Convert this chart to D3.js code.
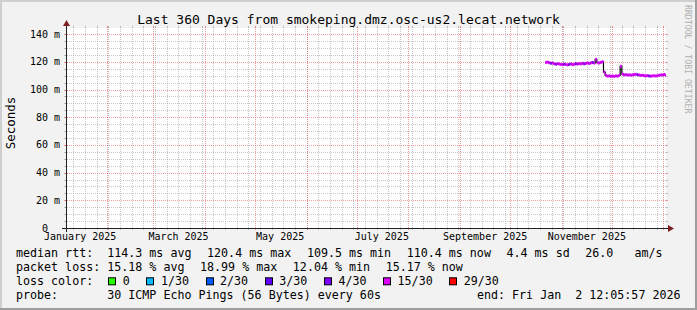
<!DOCTYPE html>
<html>
<head>
<meta charset="utf-8">
<script src="https://cdn.jsdelivr.net/npm/d3@7"></script>
<style>
html, body { margin: 0; padding: 0; background: #fff; }
svg { display: block; }
text { font-family: "DejaVu Sans Mono", monospace; white-space: pre; }
</style>
</head>
<body>
<div id="chart"></div>
<script>
// ---- data ----
const title = "Last 360 Days from smokeping.dmz.osc-us2.lecat.network";
const endStamp = "2026-01-02T12:05:57Z";
const spanDays = 360;
const firstDay = "2025-10-22T00:00:00Z";

// daily median rtt in ms, Oct 22 2025 .. Jan 2 2026
const medianMs = [
  119.6, 119.8, 119.4, 119.0, 119.2, 118.6, 118.3, 118.8, 118.4, 118.2,
  118.0, 118.4, 118.1, 117.8, 118.2, 118.5, 118.0, 118.3, 118.7, 118.4,
  118.9, 118.5, 119.0, 118.6, 118.9, 119.3, 118.8, 119.4, 119.6, 119.1,
  121.9, 119.4, 119.2, 119.7, 120.1, 112.6, 110.3, 109.7, 109.9, 109.6,
  109.8, 109.5, 109.9, 109.7, 110.3, 116.8, 111.2, 110.6, 110.8, 110.5,
  110.7, 110.4, 110.6, 110.9, 111.0, 110.7, 110.5, 110.2, 110.4, 110.0,
  109.9, 110.1, 109.8, 109.7, 109.9, 110.0, 109.8, 110.1, 110.3, 110.6,
  110.5, 110.9, 110.4
];
// lost pings (out of 30) for the same days
const lossPings = [
  4.6, 4.4, 4.9, 3.8, 4.7, 4.5, 3.7, 4.8, 4.6, 4.3,
  4.5, 3.9, 4.7, 4.6, 3.8, 4.4, 4.9, 4.5, 3.7, 4.6,
  4.8, 4.5, 4.3, 3.9, 4.6, 4.7, 4.4, 4.5, 3.8, 4.6,
  4.9, 4.5, 4.6, 4.4, 4.7, 5.1, 4.6, 4.5, 4.8, 4.4,
  4.6, 4.5, 4.7, 4.3, 4.6, 5.0, 4.5, 4.6, 4.4, 4.7,
  4.5, 4.6, 4.8, 4.4, 4.6, 3.8, 4.5, 4.7, 4.6, 4.4,
  4.5, 4.6, 3.9, 4.7, 4.5, 4.6, 4.4, 4.8, 4.5, 4.6,
  4.5, 4.6, 4.55
];

const lossSteps = [0, 1, 2, 3, 4, 15, 29];
const lossLabels = ["0", "1/30", "2/30", "3/30", "4/30", "15/30", "29/30"];
const lossColors = ["#26ff00", "#00b8ff", "#0059ff", "#5e00ff", "#7e00ff", "#dd00ff", "#ff0000"];

const yMaxMs = 144.48;
const yMajorMs = [0, 20, 40, 60, 80, 100, 120, 140];
const yMinorStepMs = 5;

const rttStats = ["114.3 ms avg", "120.4 ms max", "109.5 ms min", "110.4 ms now", "4.4 ms sd", "26.0   am/s"];
const lossStats = ["15.18 % avg", "18.99 % max", "12.04 % min", "15.17 % now"];
const probeText = "30 ICMP Echo Pings (56 Bytes) every 60s";
const endText = "end: Fri Jan  2 12:05:57 2026";

// ---- layout ----
const W = 697, H = 310;
const plot = {left: 66, right: 666, top: 28, bottom: 228};

const svg = d3.select("#chart").append("svg")
  .attr("width", W).attr("height", H);

svg.append("rect").attr("width", W).attr("height", H).attr("fill", "#f2f2f2");
// 3d shade around the image
svg.append("path").attr("d", `M0,${H} V0 H${W}`).attr("fill", "none")
  .attr("stroke", "#cfcfcf").attr("stroke-width", 4);
svg.append("path").attr("d", `M0,${H} H${W} V0`).attr("fill", "none")
  .attr("stroke", "#9e9e9e").attr("stroke-width", 4);

svg.append("rect")
  .attr("x", plot.left).attr("y", plot.top)
  .attr("width", plot.right - plot.left).attr("height", plot.bottom - plot.top)
  .attr("fill", "#fff");

const end = new Date(endStamp);
const start = d3.utcDay.offset(end, -spanDays);
const x = d3.scaleUtc().domain([start, end]).range([plot.left, plot.right]);
const y = d3.scaleLinear().domain([0, yMaxMs]).range([plot.bottom, plot.top]);

const minorCol = "rgba(143,143,143,0.5)";
const majorCol = "rgba(222,79,79,0.55)";
const px = v => Math.round(v) + 0.5;

// horizontal grid
const yMinor = d3.range(yMinorStepMs, yMaxMs, yMinorStepMs).filter(v => !yMajorMs.includes(v));
const grid = svg.append("g");
function hLine(v, col) {
  const yy = px(y(v));
  grid.append("line").attr("x1", plot.left - 1).attr("x2", plot.right + 1)
    .attr("y1", yy).attr("y2", yy).attr("stroke", col).attr("stroke-dasharray", "1,1");
  grid.append("line").attr("x1", plot.left - 2).attr("x2", plot.left).attr("y1", yy).attr("y2", yy).attr("stroke", col);
  grid.append("line").attr("x1", plot.right).attr("x2", plot.right + 2).attr("y1", yy).attr("y2", yy).attr("stroke", col);
}
function vLine(t, col) {
  const xx = px(x(t));
  grid.append("line").attr("x1", xx).attr("x2", xx)
    .attr("y1", plot.top - 1).attr("y2", plot.bottom + 1).attr("stroke", col).attr("stroke-dasharray", "1,1");
  grid.append("line").attr("x1", xx).attr("x2", xx).attr("y1", plot.top - 2).attr("y2", plot.top).attr("stroke", col);
  grid.append("line").attr("x1", xx).attr("x2", xx).attr("y1", plot.bottom).attr("y2", plot.bottom + 2).attr("stroke", col);
}
yMinor.forEach(v => hLine(v, minorCol));
yMajorMs.filter(v => v > 0).forEach(v => hLine(v, majorCol));
d3.utcSunday.range(start, end).forEach(t => vLine(t, minorCol));
d3.utcMonth.range(start, end).forEach(t => vLine(t, majorCol));

// y labels
svg.append("g").selectAll("text").data(yMajorMs).join("text")
  .attr("x", 60).attr("y", d => y(d) + 3.5)
  .attr("text-anchor", "end").attr("font-size", 10).attr("fill", "#000")
  .text(d => d === 0 ? "0\u00a0\u00a0" : d + " m");

// x labels, every second month, centred mid-month
const labelMonths = d3.utcMonth.range(d3.utcMonth.floor(start), end)
  .filter(t => t.getUTCMonth() % 2 === 0)
  .filter(t => x(d3.utcDay.offset(t, 15)) < plot.right);
svg.append("g").selectAll("text").data(labelMonths).join("text")
  .attr("x", d => x(d3.utcDay.offset(d, 15)))
  .attr("y", 240)
  .attr("text-anchor", "middle").attr("font-size", 10).attr("fill", "#000")
  .text(d3.utcFormat("%B %Y"));

// series
const day0 = new Date(firstDay);
const pts = medianMs.map((v, i) => ({t: d3.utcDay.offset(day0, i), v, loss: lossPings[i]}));
const bucket = l => {
  for (let i = 0; i < lossSteps.length; i++) {
    if (l <= lossSteps[i]) return i;
  }
  return lossSteps.length - 1;
};

const line = d3.line().x(d => x(d.t)).y(d => y(d.v)).curve(d3.curveStepAfter);
svg.append("path")
  .datum(pts.concat([{t: end, v: pts[pts.length - 1].v}]))
  .attr("d", line).attr("fill", "none").attr("stroke", "#000").attr("stroke-width", 1.2);

svg.append("g").selectAll("rect").data(pts).join("rect")
  .attr("x", d => x(d.t))
  .attr("width", d => x(d3.min([d3.utcDay.offset(d.t, 1), end])) - x(d.t))
  .attr("y", d => y(d.v) - 1.5)
  .attr("height", 3)
  .attr("fill", d => lossColors[bucket(d.loss)]);

// axes
const axisCol = "#222";
svg.append("line").attr("x1", plot.left - 4).attr("x2", plot.right + 4)
  .attr("y1", plot.bottom + 0.5).attr("y2", plot.bottom + 0.5).attr("stroke", axisCol);
svg.append("line").attr("x1", plot.left + 0.5).attr("x2", plot.left + 0.5)
  .attr("y1", plot.bottom + 4).attr("y2", plot.top - 4).attr("stroke", axisCol);
svg.append("path")
  .attr("d", `M${plot.right + 2},${plot.bottom - 3} L${plot.right + 2},${plot.bottom + 4} L${plot.right + 8},${plot.bottom + 0.5} Z`)
  .attr("fill", "#801f1f");
svg.append("path")
  .attr("d", `M${plot.left - 3},${plot.top - 2} L${plot.left + 4},${plot.top - 2} L${plot.left + 0.5},${plot.top - 8} Z`)
  .attr("fill", "#801f1f");

// titles
svg.append("text").attr("x", W / 2).attr("y", 23.5).attr("text-anchor", "middle")
  .attr("font-size", 13).attr("fill", "#000").text(title);
svg.append("text").attr("transform", "translate(15,123) rotate(-90)")
  .attr("text-anchor", "middle").attr("font-size", 12.5).attr("fill", "#000").text("Seconds");
svg.append("text").attr("transform", "translate(685,5) rotate(90)")
  .attr("font-size", 8.2).attr("fill", "#b0b0b0").text("RRDTOOL / TOBI OETIKER");

// legend
const lg = svg.append("g").attr("font-size", 11.66).attr("fill", "#000");
const probeW = lg.append("text").text("0000000000").node();
const charW = probeW.getComputedTextLength() / 10;
probeW.remove();
const legX = 16, colX = legX + 13 * charW, gap = 15.6;
const rowY = [257.3, 271.3, 285.3, 299.3];

function row(label, items, yy) {
  lg.append("text").attr("x", legX).attr("y", yy).text(label);
  let cx = colX;
  items.forEach(s => {
    const t = lg.append("text").attr("x", cx).attr("y", yy).text(s);
    cx += t.node().getComputedTextLength() + gap;
  });
}
row("median rtt:", rttStats, rowY[0]);
row("packet loss:", lossStats, rowY[1]);

lg.append("text").attr("x", legX).attr("y", rowY[2]).text("loss color:");
let sx = colX;
lossLabels.forEach((lab, i) => {
  lg.append("rect").attr("x", Math.round(sx) + 1.5).attr("y", rowY[2] - 7.5)
    .attr("width", 7).attr("height", 7)
    .attr("fill", lossColors[i]).attr("stroke", "#000").attr("stroke-width", 1);
  const t = lg.append("text").attr("x", sx + 15.5).attr("y", rowY[2]).text(lab);
  sx += 15.5 + t.node().getComputedTextLength() + gap;
});

row("probe:", [probeText], rowY[3]);
lg.append("text").attr("x", 680.5).attr("y", rowY[3]).attr("text-anchor", "end").text(endText);
</script>
</body>
</html>
